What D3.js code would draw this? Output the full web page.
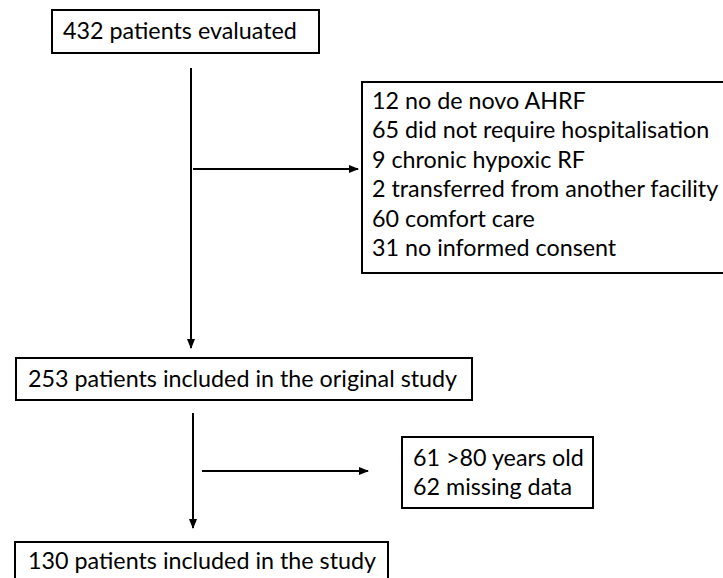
<!DOCTYPE html>
<html>
<head>
<meta charset="utf-8">
<script src="https://cdn.jsdelivr.net/npm/d3@7"></script>
<style>
  body { margin: 0; background: #fff; }
  svg { display: block; }
  text { font-family: Lato, "Open Sans", sans-serif; fill: #000; }
</style>
</head>
<body>
<div id="chart"></div>
<script>
// flow counts and labels
var stageCounts = [432, 253, 130];
var stageLabels = ["patients evaluated", "patients included in the original study", "patients included in the study"];

// first exclusion step
var excl1Counts = [12, 65, 9, 2, 60, 31];
var excl1Labels = ["no de novo AHRF", "did not require hospitalisation", "chronic hypoxic RF",
                   "transferred from another facility", "comfort care", "no informed consent"];

// second exclusion step
var excl2Counts = [61, 62];
var excl2Labels = [">80 years old", "missing data"];

var width = 723, height = 578;
var fontSize = 23.3, lineGap = 29.4;

var svg = d3.select("#chart").append("svg")
    .attr("width", width)
    .attr("height", height);

svg.append("defs").append("marker")
    .attr("id", "arrow")
    .attr("markerUnits", "userSpaceOnUse")
    .attr("markerWidth", 10)
    .attr("markerHeight", 10)
    .attr("refX", 9)
    .attr("refY", 5)
    .attr("orient", "auto")
    .append("path")
    .attr("d", "M0,1 L10,5 L0,9 Z")
    .attr("fill", "#000");

// layout of the boxes (x, y, w, h, text start, first baseline)
var stageBoxes = [
    {x: 52, y: 10, w: 267, h: 43, tx: 63, ty: 39},
    {x: 16, y: 358, w: 456, h: 42, tx: 28, ty: 387},
    {x: 15, y: 542, w: 373, h: 45, tx: 28, ty: 569}
];
var exclBoxes = [
    {x: 362, y: 82, w: 366, h: 191, tx: 372, ty: 109},
    {x: 402, y: 437, w: 191, h: 71, tx: 413, ty: 466}
];

var stages = stageCounts.map(function(c, i) {
    return {lines: [c + " " + stageLabels[i]], box: stageBoxes[i]};
});
var excl = [
    {lines: excl1Counts.map(function(c, i) { return c + " " + excl1Labels[i]; }), box: exclBoxes[0]},
    {lines: excl2Counts.map(function(c, i) { return c + " " + excl2Labels[i]; }), box: exclBoxes[1]}
];

var allBoxes = stages.concat(excl);

var g = svg.selectAll(".node")
    .data(allBoxes)
    .enter().append("g")
    .attr("class", "node");

g.append("rect")
    .attr("x", function(d) { return d.box.x; })
    .attr("y", function(d) { return d.box.y; })
    .attr("width", function(d) { return d.box.w; })
    .attr("height", function(d) { return d.box.h; })
    .attr("fill", "#fff")
    .attr("stroke", "#000")
    .attr("stroke-width", 2);

g.each(function(d) {
    d3.select(this).selectAll("text")
        .data(d.lines)
        .enter().append("text")
        .attr("x", d.box.tx)
        .attr("y", function(t, i) { return d.box.ty + i * lineGap; })
        .style("font-size", fontSize + "px")
        .text(function(t) { return t; });
});

// connectors
var arrows = [
    [[191, 68], [191, 348]],
    [[193, 169], [358, 169]],
    [[193, 413], [193, 528]],
    [[202, 471], [368, 471]]
];

svg.selectAll(".arrow")
    .data(arrows)
    .enter().append("line")
    .attr("class", "arrow")
    .attr("x1", function(d) { return d[0][0]; })
    .attr("y1", function(d) { return d[0][1]; })
    .attr("x2", function(d) { return d[1][0]; })
    .attr("y2", function(d) { return d[1][1]; })
    .attr("stroke", "#000")
    .attr("stroke-width", 2)
    .attr("marker-end", "url(#arrow)");
</script>
</body>
</html>
